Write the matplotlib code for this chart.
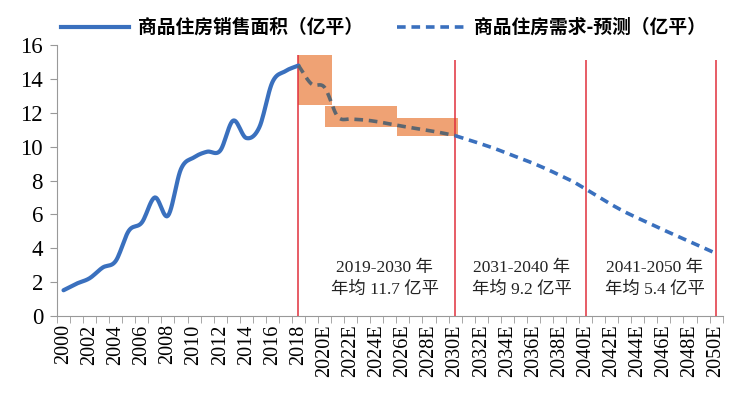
import numpy as np
import matplotlib.pyplot as plt
from matplotlib.lines import Line2D

# categories: 2000..2018 actual, 2019E..2050E forecast
years = [str(y) for y in range(2000, 2019)] + [str(y) + 'E' for y in range(2019, 2051)]

# 商品住房销售面积 (亿平), 2000-2018
sales = [1.52, 1.91, 2.23, 2.86, 3.25, 5.03, 5.52, 7.0, 5.92, 8.68,
         9.37, 9.70, 9.76, 11.54, 10.51, 11.14, 13.8, 14.46, 14.79]

# 需求预测 (亿平), 2018-2050E
forecast = [14.79, 13.7, 13.5, 11.78, 11.63, 11.58, 11.48, 11.34, 11.2, 11.08,
            10.95, 10.81, 10.65, 10.41, 10.16, 9.9, 9.6, 9.31, 9.01, 8.68,
            8.32, 7.95, 7.5, 7.04, 6.57, 6.15, 5.78, 5.43, 5.07, 4.73,
            4.38, 4.04, 3.69]

# orange forecast ranges (category index start/end, low, high)
band_x0 = [17.98, 20.07, 25.56]
band_x1 = [20.58, 25.56, 30.2]
band_lo = [12.43, 11.18, 10.65]
band_hi = [15.44, 12.38, 11.7]

divider_idx = [18, 30, 40, 50]
period_labels = ['2019-2030 年\n年均 11.7 亿平', '2031-2040 年\n年均 9.2 亿平', '2041-2050 年\n年均 5.4 亿平']
period_x = [24.6, 35.1, 45.3]

CJK = ['Noto Sans CJK SC', 'DejaVu Sans']
SERIF = ['Liberation Serif', 'Noto Sans CJK SC']
BLUE = '#3A70BE'
GRAY = '#5C6670'
ORANGE = '#EFA274'
RED = '#E0303C'


def smooth(x, y, n=12):
    # catmull-rom through the points, like excel's smoothed line
    x = np.asarray(x, float)
    y = np.asarray(y, float)
    px = np.concatenate([[2 * x[0] - x[1]], x, [2 * x[-1] - x[-2]]])
    py = np.concatenate([[2 * y[0] - y[1]], y, [2 * y[-1] - y[-2]]])
    xs, ys = [], []
    t = np.linspace(0, 1, n, endpoint=False)
    for i in range(1, len(px) - 2):
        for p, out in ((px, xs), (py, ys)):
            p0, p1, p2, p3 = p[i - 1], p[i], p[i + 1], p[i + 2]
            out.extend(0.5 * (2 * p1 + (-p0 + p2) * t + (2 * p0 - 5 * p1 + 4 * p2 - p3) * t ** 2
                              + (-p0 + 3 * p1 - 3 * p2 + p3) * t ** 3))
    xs.append(x[-1])
    ys.append(y[-1])
    return np.array(xs), np.array(ys)


fig = plt.figure(figsize=(7.45, 3.95), dpi=100)
ax = fig.add_axes([0.0765, 0.2, 0.8935, 0.686])

xi = np.arange(len(years))
sx, sy = smooth(xi[:19], sales)
ax.plot(sx, sy, color=BLUE, lw=3.0, solid_capstyle='round', zorder=4)

fx = xi[18:]
f1x, f1y = smooth(fx[:13], forecast[:13])
ax.plot(f1x, f1y, color=GRAY, lw=2.6, dashes=(2.4, 1.6), zorder=4)
f2x, f2y = smooth(fx[12:], forecast[12:])
ax.plot(f2x, f2y, color=BLUE, lw=2.6, dashes=(2.4, 1.6), zorder=4)

for x0, x1, lo, hi in zip(band_x0, band_x1, band_lo, band_hi):
    ax.fill_between([x0, x1], lo, hi, color=ORANGE, lw=0, zorder=2)

for i, d in enumerate(divider_idx):
    ax.vlines(d, 0, band_hi[0] if i == 0 else 15.1, color=RED, lw=1.1, zorder=3)

for x, txt in zip(period_x, period_labels):
    ax.text(x, 2.2, txt, ha='center', va='center', fontsize=12.5, family=SERIF,
            linespacing=1.5, color='#222222')

ax.set_xlim(-0.5, len(years) - 0.5)
ax.set_ylim(0, 16)
ax.set_yticks(range(0, 17, 2))
ax.set_xticks(xi[::2])
ax.set_xticklabels(years[::2], rotation=90, family=SERIF, fontsize=14.5)
ax.set_xticks(np.arange(-0.5, len(years), 1), minor=True)
ax.tick_params(axis='x', which='major', length=0, pad=6)
ax.tick_params(axis='x', which='minor', length=5, color='#999999')
ax.tick_params(axis='y', length=5, color='#999999', pad=5)
for lab in ax.get_yticklabels():
    lab.set_family(SERIF)
    lab.set_fontsize(16.5)
for s in ['top', 'right']:
    ax.spines[s].set_visible(False)
for s in ['left', 'bottom']:
    ax.spines[s].set_color('#999999')

handles = [Line2D([], [], color=BLUE, lw=3.0),
           Line2D([], [], color=BLUE, lw=2.6, dashes=(2.4, 1.6))]
fig.legend(handles, ['商品住房销售面积（亿平）', '商品住房需求-预测（亿平）'],
           loc='center', bbox_to_anchor=(0.515, 0.93), ncol=2, frameon=False,
           handlelength=3.6, columnspacing=1.8, handletextpad=0.5,
           prop={'family': CJK, 'size': 13.5, 'weight': 'bold'})

fig.savefig('out.png', dpi=100)
